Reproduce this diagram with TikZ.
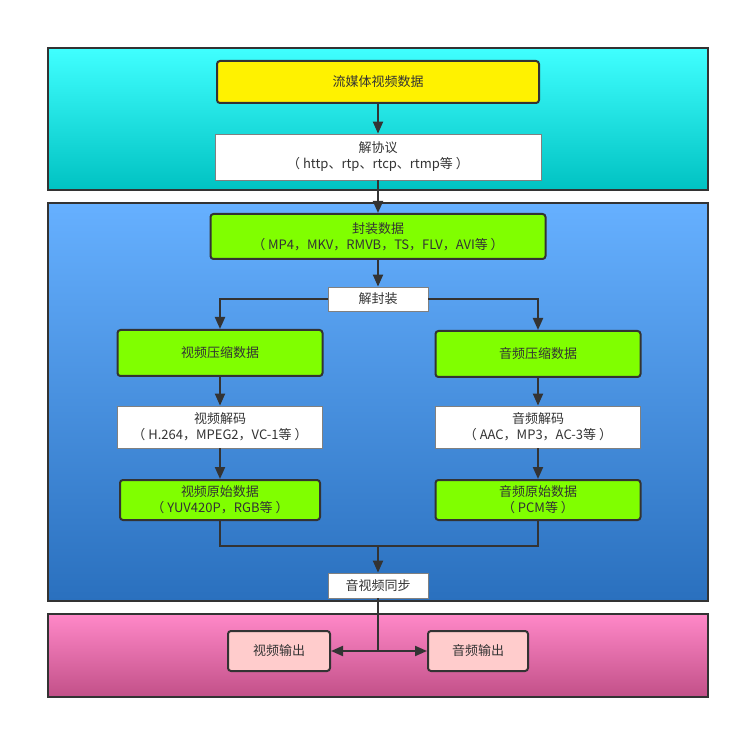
\documentclass[tikz,border=0pt]{standalone}
\usepackage{fontspec}
\setmainfont{Noto Sans CJK SC}
\usetikzlibrary{arrows.meta}

\definecolor{ink}{HTML}{333333}
\definecolor{boxgreen}{HTML}{80FF00}
\definecolor{boxpink}{HTML}{FFCCCC}

\tikzset{
  panel/.style = {draw = ink, line width = 2pt},
  box/.style = {draw = ink, line width = 2pt, rounded corners = 3pt, text = ink, align = center,
    font = \fontsize{13}{16}\selectfont, inner sep = 0pt},
  plain/.style = {draw = gray, line width = 0.8pt, fill = white, text = ink, align = center,
    font = \fontsize{13}{16}\selectfont, inner sep = 0pt},
  link/.style = {draw = ink, line width = 2pt},
  arr/.style = {link, -{Triangle[length = 12pt, width = 10pt]}}
}

\begin{document}
\begin{tikzpicture}[x = 1pt, y = -1pt]

\useasboundingbox (0,0) rectangle (740,730);

\draw [panel, top color = {rgb,255:red,64;green,255;blue,255}, bottom color = {rgb,255:red,0;green,194;blue,194}] (48,48) rectangle (708,190);
\draw [panel, top color = {rgb,255:red,102;green,176;blue,255}, bottom color = {rgb,255:red,42;green,112;blue,190}] (48,203) rectangle (708,601);
\draw [panel, top color = {rgb,255:red,255;green,136;blue,200}, bottom color = {rgb,255:red,194;green,80;blue,136}] (48,614) rectangle (708,697);

\node [box, fill = yellow, minimum width = 322pt, minimum height = 42pt] (v1) at (378,82) {流媒体视频数据};
\node [plain, minimum width = 326pt, minimum height = 46pt] (v2) at (378,157) {解协议\\（ http、rtp、rtcp、rtmp等 ）};
\node [box, fill = boxgreen, minimum width = 335pt, minimum height = 45pt] (v3) at (378,236.5) {封装数据\\（ MP4，MKV，RMVB，TS，FLV，AVI等 ）};
\node [plain, minimum width = 100pt, minimum height = 24pt] (v4) at (378,299) {解封装};

\node [box, fill = boxgreen, minimum width = 205pt, minimum height = 46pt] (v5) at (220,353) {视频压缩数据};
\node [box, fill = boxgreen, minimum width = 205pt, minimum height = 46pt] (v6) at (538,354) {音频压缩数据};
\node [plain, minimum width = 205pt, minimum height = 42pt] (v7) at (220,427) {视频解码\\（ H.264，MPEG2，VC-1等 ）};
\node [plain, minimum width = 205pt, minimum height = 42pt] (v8) at (538,427) {音频解码\\（ AAC，MP3，AC-3等 ）};
\node [box, fill = boxgreen, minimum width = 200pt, minimum height = 40pt] (v9) at (220,500) {视频原始数据\\（ YUV420P，RGB等 ）};
\node [box, fill = boxgreen, minimum width = 205pt, minimum height = 40pt] (v10) at (538,500) {音频原始数据\\（ PCM等 ）};

\node [plain, minimum width = 100pt, minimum height = 25pt] (v11) at (378,585.5) {音视频同步};
\node [box, fill = boxpink, minimum width = 102pt, minimum height = 40pt] (v12) at (279,651) {视频输出};
\node [box, fill = boxpink, minimum width = 100pt, minimum height = 40pt] (v13) at (478,651) {音频输出};

\coordinate (j1) at (378,546);
\coordinate (j2) at (378,651);

\draw [arr] (v1) -- (v2);
\draw [arr] (v2) -- (v3);
\draw [arr] (v3) -- (v4);
\draw [arr] (v4.west) -| (v5);
\draw [arr] (v4.east) -| (v6);
\draw [arr] (v5) -- (v7);
\draw [arr] (v6) -- (v8);
\draw [arr] (v7) -- (v9);
\draw [arr] (v8) -- (v10);
\draw [link] (v9) |- (j1);
\draw [link] (v10) |- (j1);
\draw [arr] (j1) -- (v11);
\draw [link] (v11) -- (j2);
\draw [arr] (j2) -- (v12);
\draw [arr] (j2) -- (v13);
\end{tikzpicture}
\end{document}
